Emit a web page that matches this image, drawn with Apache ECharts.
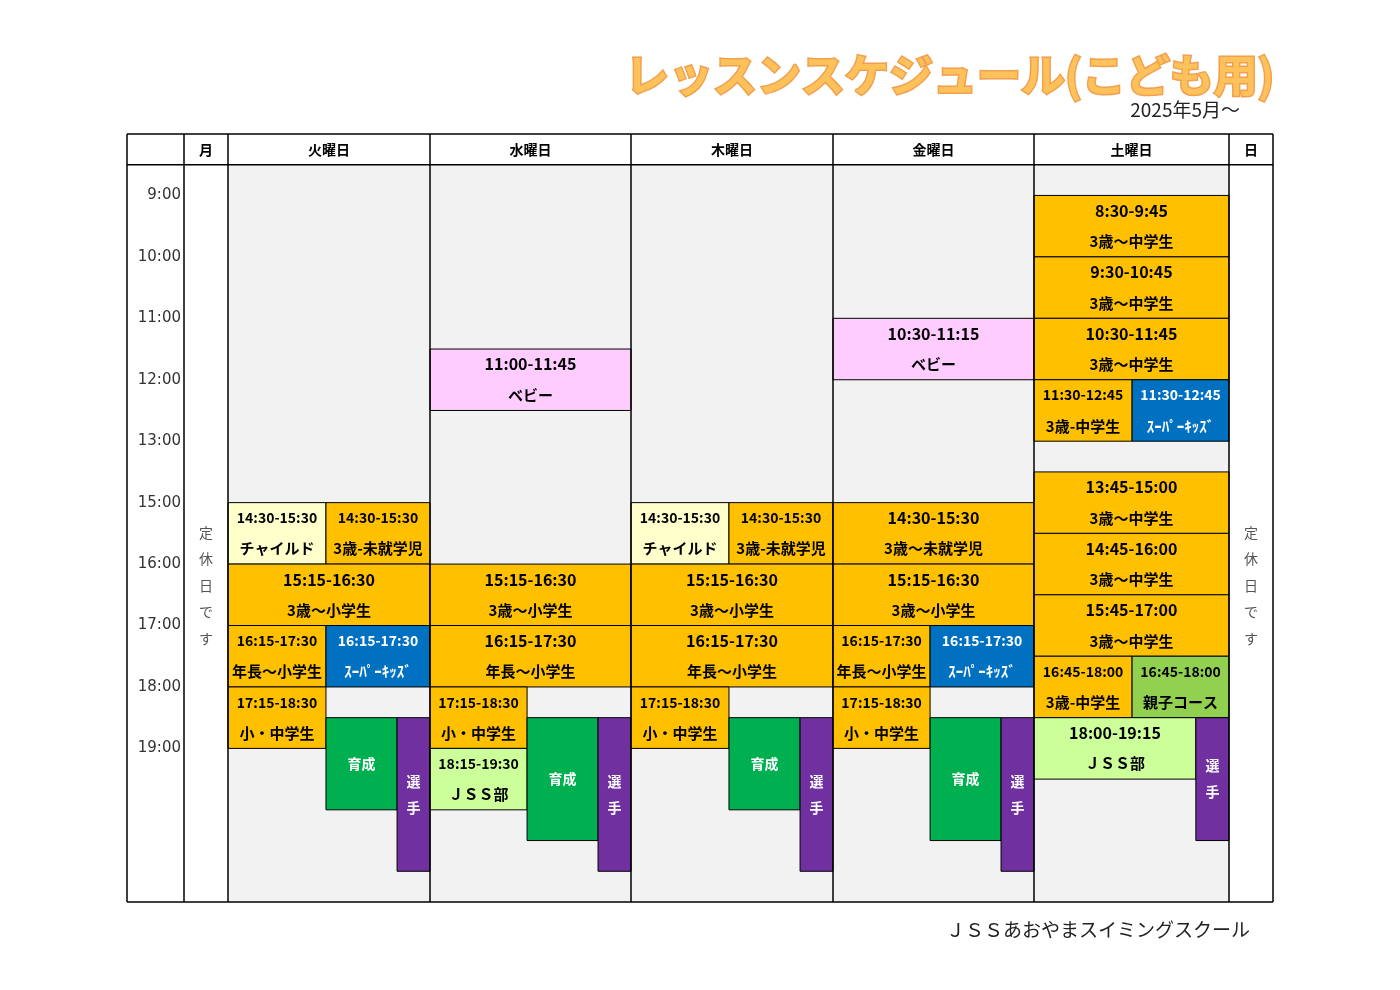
<!DOCTYPE html>
<html><head><meta charset="utf-8">
<script src="https://cdn.jsdelivr.net/npm/echarts@6/dist/echarts.min.js"></script>
<style>html,body{margin:0;padding:0;background:#fff}#c{width:1400px;height:990px}</style>
</head><body><div id="c"></div>
<script>
const FONT = '"Noto Sans CJK JP","Noto Sans",sans-serif';
// columns: time, 月, 火, 水, 木, 金, 土, 日
const dayNames = ['', '月', '火曜日', '水曜日', '木曜日', '金曜日', '土曜日', '日'];
const dayEdges = [0, 57, 101, 303, 504, 706, 907, 1102, 1146];
const timeLabels = ['9:00','10:00','11:00','12:00','13:00','15:00','16:00','17:00','18:00','19:00'];
const timeRows = [1,3,5,7,9,11,13,15,17,19];
const colors = {o:'#ffc000', y:'#ffffcc', b:'#0070c0', g:'#00b050', p:'#7030a0', k:'#ffccff', l:'#ccff99', m:'#92d050'};
// [day, fracStart, fracEnd, rowStart, rowEnd, colour, line1, line2, kind]
const events = [
 [2,0,0.485,11,13,'y','14:30-15:30','チャイルド','h'],
 [2,0.485,1,11,13,'o','14:30-15:30','3歳-未就学児','h'],
 [2,0,1,13,15,'o','15:15-16:30','3歳～小学生','f'],
 [2,0,0.485,15,17,'o','16:15-17:30','年長～小学生','h'],
 [2,0.485,1,15,17,'b','16:15-17:30','ｽｰﾊﾟｰｷｯｽﾞ','h'],
 [2,0,0.485,17,19,'o','17:15-18:30','小・中学生','h'],
 [2,0.485,0.837,18,21,'g','育成','','c'],
 [2,0.837,1,18,23,'p','選\n手','','v'],
 [3,0,1,6,8,'k','11:00-11:45','ベビー','f'],
 [3,0,1,13,15,'o','15:15-16:30','3歳～小学生','f'],
 [3,0,1,15,17,'o','16:15-17:30','年長～小学生','f'],
 [3,0,0.483,17,19,'o','17:15-18:30','小・中学生','h'],
 [3,0,0.483,19,21,'l','18:15-19:30','ＪＳＳ部','h'],
 [3,0.483,0.836,18,22,'g','育成','','c'],
 [3,0.836,1,18,23,'p','選\n手','','v'],
 [4,0,0.485,11,13,'y','14:30-15:30','チャイルド','h'],
 [4,0.485,1,11,13,'o','14:30-15:30','3歳-未就学児','h'],
 [4,0,1,13,15,'o','15:15-16:30','3歳～小学生','f'],
 [4,0,1,15,17,'o','16:15-17:30','年長～小学生','f'],
 [4,0,0.485,17,19,'o','17:15-18:30','小・中学生','h'],
 [4,0.485,0.837,18,21,'g','育成','','c'],
 [4,0.837,1,18,23,'p','選\n手','','v'],
 [5,0,1,5,7,'k','10:30-11:15','ベビー','f'],
 [5,0,1,11,13,'o','14:30-15:30','3歳～未就学児','f'],
 [5,0,1,13,15,'o','15:15-16:30','3歳～小学生','f'],
 [5,0,0.483,15,17,'o','16:15-17:30','年長～小学生','h'],
 [5,0.483,1,15,17,'b','16:15-17:30','ｽｰﾊﾟｰｷｯｽﾞ','h'],
 [5,0,0.483,17,19,'o','17:15-18:30','小・中学生','h'],
 [5,0.483,0.836,18,22,'g','育成','','c'],
 [5,0.836,1,18,23,'p','選\n手','','v'],
 [6,0,1,1,3,'o','8:30-9:45','3歳～中学生','f'],
 [6,0,1,3,5,'o','9:30-10:45','3歳～中学生','f'],
 [6,0,1,5,7,'o','10:30-11:45','3歳～中学生','f'],
 [6,0,0.503,7,9,'o','11:30-12:45','3歳-中学生','h'],
 [6,0.503,1,7,9,'b','11:30-12:45','ｽｰﾊﾟｰｷｯｽﾞ','h'],
 [6,0,1,10,12,'o','13:45-15:00','3歳～中学生','f'],
 [6,0,1,12,14,'o','14:45-16:00','3歳～中学生','f'],
 [6,0,1,14,16,'o','15:45-17:00','3歳～中学生','f'],
 [6,0,0.503,16,18,'o','16:45-18:00','3歳-中学生','h'],
 [6,0.503,1,16,18,'m','16:45-18:00','親子コース','h'],
 [6,0,0.83,18,20,'l','18:00-19:15','ＪＳＳ部','f'],
 [6,0.83,1,18,22,'p','選\n手','','v']
];
const closedText = '定\n休\n日\nで\nす';

const chart = echarts.init(document.getElementById('c'));
function xOf(d, f){ return dayEdges[d] + (dayEdges[d+1]-dayEdges[d])*f; }

function rectEl(api, x0, x1, y0, y1, style){
  const a = api.coord([x0, y0]), b = api.coord([x1, y1]);
  return {type:'rect', shape:{x:a[0], y:a[1], width:b[0]-a[0], height:b[1]-a[1]}, style};
}

const series = [
 { // background
  type:'custom', coordinateSystem:'cartesian2d', data:[0,1,2,3,4,5,6,7], silent:true, z:1,
  renderItem(p, api){
    const d = p.dataIndex;
    const fill = (d>=2 && d<=6) ? '#f2f2f2' : '#ffffff';
    const children = [rectEl(api, dayEdges[d], dayEdges[d+1], 0, 24, {fill})];
    const a = api.coord([(dayEdges[d]+dayEdges[d+1])/2, -0.5]);
    children.push({type:'text', x:a[0], y:a[1], style:{text:dayNames[d], font:'bold 14px '+FONT, fill:'#000', align:'center', verticalAlign:'middle'}});
    if (d===1 || d===7){
      const c = api.coord([(dayEdges[d]+dayEdges[d+1])/2, 13.7]);
      children.push({type:'text', x:c[0], y:c[1], style:{text:closedText, font:'14px '+FONT, fill:'#555', align:'center', verticalAlign:'middle', lineHeight:26.5}});
    }
    return {type:'group', children};
  }
 },
 { // events
  type:'custom', coordinateSystem:'cartesian2d', data:events.map((e,i)=>i), silent:true, z:2,
  renderItem(p, api){
    const e = events[p.dataIndex];
    const x0 = xOf(e[0], e[1]), x1 = xOf(e[0], e[2]);
    const fill = colors[e[5]];
    const tc = (e[5]==='b'||e[5]==='g'||e[5]==='p') ? '#fff' : '#000';
    const children = [rectEl(api, x0, x1, e[3], e[4], {fill, stroke:'#000', lineWidth:1})];
    const cx = (x0+x1)/2;
    const kind = e[8];
    if (kind==='c' || kind==='v'){
      const c = api.coord([cx, (e[3]+e[4])/2 + (kind==='c'? 0 : 0.0)]);
      children.push({type:'text', x:c[0], y:c[1], style:{text:e[6], font:'bold 14px '+FONT, fill:tc, align:'center', verticalAlign:'middle', lineHeight:26}});
    } else {
      const s1 = kind==='f' ? 16 : 14, s2 = kind==='f' ? 15 : 15;
      const a = api.coord([cx, e[3]+0.5]), b = api.coord([cx, e[3]+1.5]);
      children.push({type:'text', x:a[0], y:a[1], style:{text:e[6], font:'bold '+s1+'px '+FONT, fill:tc, align:'center', verticalAlign:'middle'}});
      children.push({type:'text', x:b[0], y:b[1], style:{text:e[7], font:'bold '+s2+'px '+FONT, fill:tc, align:'center', verticalAlign:'middle'}});
    }
    return {type:'group', children};
  }
 },
 { // time labels
  type:'custom', coordinateSystem:'cartesian2d', data:timeLabels.map((t,i)=>i), silent:true, z:3,
  renderItem(p, api){
    const a = api.coord([dayEdges[1]-3, timeRows[p.dataIndex]]);
    return {type:'text', x:a[0], y:a[1], style:{text:timeLabels[p.dataIndex], font:'15px "DejaVu Sans",'+FONT, fill:'#333', align:'right', verticalAlign:'middle'}};
  }
 },
 { // grid lines
  type:'custom', coordinateSystem:'cartesian2d', data:[0], silent:true, z:4,
  renderItem(p, api){
    const children = [];
    dayEdges.forEach(x=>{
      const a = api.coord([x,-1]), b = api.coord([x,24]);
      children.push({type:'line', shape:{x1:a[0],y1:a[1],x2:b[0],y2:b[1]}, style:{stroke:'#000', lineWidth:1.5}});
    });
    [-1,0,24].forEach(r=>{
      const a = api.coord([0,r]), b = api.coord([dayEdges[8],r]);
      children.push({type:'line', shape:{x1:a[0],y1:a[1],x2:b[0],y2:b[1]}, style:{stroke:'#000', lineWidth:1.5}});
    });
    return {type:'group', children};
  }
 }
];

chart.setOption({
  animation:false,
  grid:{left:127, right:127, top:134, bottom:88},
  xAxis:{type:'value', min:0, max:1146, show:false},
  yAxis:{type:'value', min:-1, max:24, inverse:true, show:false},
  series,
  graphic:[
    {type:'text', left:'center', top:52, x:-75, style:{text:'レッスンスケジュール(こども用)', font:'bold 44px '+FONT, fill:'#ffc25a', stroke:'#f0a050', lineWidth:3, align:'center'}, z:10, left:null, x:625, y:80, style2:null},
    {type:'text', x:1240, y:110, style:{text:'2025年5月～', font:'19px '+FONT, fill:'#222', align:'right', verticalAlign:'middle'}},
    {type:'text', x:1250, y:930, style:{text:'ＪＳＳあおやまスイミングスクール', font:'19px '+FONT, fill:'#222', align:'right', verticalAlign:'middle'}}
  ]
});
</script></body></html>
